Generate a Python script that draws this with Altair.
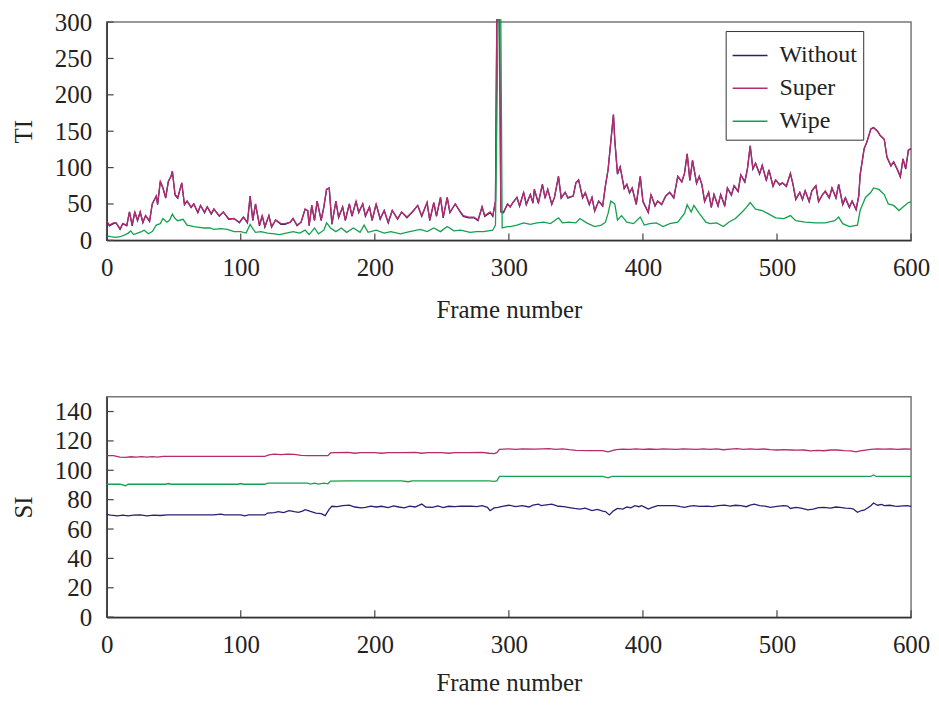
import altair as alt
import pandas as pd

FONT = "Liberation Serif"

# ---------------- TI (top panel) ----------------
ti_frames = [
    0, 2, 5, 7, 10, 12, 15, 17, 19, 21,
    23, 25, 27, 29, 32, 34, 37, 38, 40, 42,
    44, 46, 48, 49, 51, 53, 56, 58, 60, 63,
    65, 68, 70, 73, 75, 78, 80, 84, 87, 91,
    95, 99, 102, 105, 107, 109, 111, 114, 116, 118,
    121, 123, 126, 130, 133, 137, 139, 142, 145, 148,
    150, 151, 153, 155, 157, 160, 162, 164, 166, 168,
    171, 173, 176, 178, 181, 183, 186, 188, 191, 193,
    196, 198, 201, 204, 207, 210, 213, 217, 220, 224,
    228, 232, 235, 239, 241, 244, 246, 249, 251, 254,
    256, 260, 264, 266, 270, 274, 277, 280, 282, 286,
    288, 290, 291, 293, 294, 296, 299, 301, 303, 306,
    308, 311, 313, 316, 318, 319, 322, 325, 327, 329,
    332, 334, 337, 339, 342, 344, 348, 350, 352, 355,
    357, 360, 362, 364, 367, 370, 372, 374, 376, 378,
    379, 381, 383, 386, 388, 390, 392, 395, 398, 400,
    404, 406, 409, 411, 414, 417, 420, 423, 426, 429,
    431, 433, 435, 437, 440, 442, 444, 446, 449, 451,
    453, 456, 458, 461, 463, 466, 468, 471, 473, 476,
    478, 480, 482, 484, 487, 489, 492, 494, 497, 499,
    502, 504, 507, 510, 512, 514, 517, 519, 521, 524,
    526, 529, 531, 534, 536, 539, 541, 544, 546, 549,
    551, 554, 556, 559, 561, 562, 565, 567, 570, 572,
    575, 577, 580, 582, 585, 587, 590, 592, 594, 596,
    598, 600,
]

ti_super = [
    27, 21, 24, 24, 16, 23, 21, 39, 21, 39,
    28, 39, 25, 34, 27, 50, 61, 50, 81, 72,
    59, 81, 88, 95, 63, 59, 79, 50, 54, 46,
    50, 39, 48, 39, 46, 37, 43, 34, 39, 30,
    30, 25, 32, 25, 61, 28, 50, 21, 34, 19,
    34, 19, 28, 23, 23, 25, 30, 21, 25, 43,
    41, 21, 48, 28, 54, 28, 46, 70, 72, 23,
    54, 32, 46, 28, 50, 34, 54, 39, 50, 34,
    46, 28, 50, 30, 41, 25, 41, 30, 39, 32,
    39, 48, 34, 52, 28, 52, 34, 59, 32, 59,
    39, 50, 39, 34, 32, 32, 28, 46, 34, 39,
    34, 54, 303, 303, 40, 39, 50, 46, 52, 59,
    48, 66, 50, 63, 52, 70, 52, 77, 59, 70,
    50, 59, 88, 59, 66, 59, 61, 79, 83, 59,
    66, 50, 59, 41, 54, 48, 75, 97, 135, 173,
    138, 92, 101, 72, 77, 66, 72, 50, 88, 54,
    39, 63, 48, 54, 50, 61, 66, 59, 88, 81,
    92, 119, 83, 110, 79, 88, 77, 54, 66, 46,
    63, 48, 63, 48, 72, 63, 75, 68, 90, 81,
    99, 130, 99, 106, 92, 103, 83, 97, 75, 83,
    77, 79, 75, 92, 77, 57, 66, 57, 68, 54,
    68, 75, 54, 63, 68, 59, 72, 59, 77, 50,
    59, 46, 54, 43, 61, 90, 126, 135, 153, 155,
    150, 144, 139, 115, 103, 108, 97, 88, 112, 99,
    124, 126,
]

ti_without = [
    26, 20, 23, 24, 15, 23, 20, 39, 20, 39,
    27, 39, 24, 34, 26, 50, 61, 49, 81, 72,
    58, 81, 88, 95, 62, 58, 79, 49, 54, 45,
    50, 38, 48, 38, 46, 36, 43, 33, 39, 29,
    30, 24, 32, 24, 61, 27, 50, 20, 34, 18,
    34, 18, 28, 22, 22, 25, 30, 20, 25, 43,
    41, 20, 48, 27, 54, 27, 46, 70, 72, 22,
    54, 31, 46, 27, 50, 33, 54, 38, 50, 33,
    46, 27, 50, 29, 41, 24, 41, 29, 39, 31,
    39, 48, 33, 52, 27, 52, 33, 59, 31, 59,
    38, 50, 38, 33, 31, 31, 27, 46, 33, 38,
    33, 54, 303, 303, 39, 38, 50, 46, 52, 59,
    47, 66, 49, 63, 51, 70, 51, 77, 58, 70,
    49, 59, 88, 58, 66, 58, 61, 79, 83, 58,
    65, 49, 59, 40, 54, 47, 75, 97, 135, 173,
    138, 91, 101, 71, 77, 65, 72, 49, 88, 53,
    38, 63, 47, 54, 49, 61, 66, 58, 88, 80,
    92, 119, 82, 110, 78, 88, 76, 53, 66, 45,
    63, 47, 63, 47, 72, 62, 75, 67, 90, 80,
    99, 130, 98, 106, 91, 103, 82, 97, 74, 83,
    76, 79, 74, 92, 76, 56, 66, 56, 68, 53,
    68, 75, 53, 63, 67, 58, 72, 58, 77, 49,
    58, 45, 54, 42, 61, 90, 126, 135, 153, 155,
    150, 144, 139, 114, 102, 108, 96, 87, 112, 98,
    124, 126,
]

ti_wipe_frames = [
    0, 3, 7, 10, 14, 16, 18, 20, 23, 26,
    28, 31, 34, 37, 40, 42, 45, 47, 49, 51,
    53, 57, 60, 65, 69, 73, 77, 80, 85, 90,
    95, 100, 104, 107, 109, 111, 115, 120, 125, 129,
    134, 139, 144, 148, 151, 155, 158, 162, 164, 167,
    171, 175, 179, 184, 189, 192, 195, 201, 207, 212,
    219, 226, 234, 239, 244, 249, 254, 259, 264, 271,
    276, 281, 288, 290, 292, 294, 295, 299, 301, 306,
    311, 316, 321, 326, 331, 337, 340, 345, 350, 353,
    358, 364, 369, 372, 374, 376, 379, 381, 384, 388,
    393, 398, 401, 405, 410, 415, 420, 426, 431, 433,
    436, 438, 442, 447, 450, 455, 460, 464, 469, 474,
    477, 480, 484, 489, 494, 499, 505, 510, 514, 521,
    529, 536, 543, 546, 549, 554, 560, 562, 566, 570,
    572, 576, 580, 583, 587, 591, 594, 598, 600,
]

ti_wipe = [
    6, 5, 4, 5, 8, 10, 13, 8, 10, 12,
    14, 9, 12, 21, 23, 30, 25, 28, 36, 30,
    27, 29, 21, 19, 18, 17, 17, 15, 16, 15,
    12, 12, 10, 22, 16, 11, 12, 10, 9, 8,
    10, 12, 10, 14, 8, 17, 9, 14, 24, 17,
    12, 17, 11, 17, 11, 21, 11, 14, 10, 12,
    9, 12, 15, 12, 17, 12, 19, 13, 14, 11,
    12, 12, 14, 21, 303, 303, 17, 19, 19, 21,
    24, 22, 24, 25, 23, 31, 24, 25, 24, 30,
    24, 19, 21, 25, 37, 54, 50, 28, 34, 25,
    23, 32, 21, 23, 24, 19, 23, 25, 37, 49,
    39, 48, 37, 25, 23, 24, 19, 25, 30, 39,
    45, 52, 43, 41, 36, 31, 30, 34, 27, 25,
    24, 24, 27, 32, 23, 19, 21, 41, 59, 66,
    72, 70, 63, 50, 48, 41, 46, 52, 53,
]

# ---------------- SI (bottom panel) ----------------
si_super_frames = [
    0, 5, 10, 14, 18, 22, 26, 30, 34, 38,
    42, 50, 60, 70, 80, 90, 100, 110, 118, 121,
    125, 130, 135, 140, 145, 150, 155, 160, 165, 167,
    170, 180, 185, 190, 200, 205, 210, 220, 230, 235,
    240, 250, 255, 260, 270, 280, 285, 289, 291, 293,
    300, 305, 310, 320, 330, 335, 340, 345, 350, 360,
    370, 374, 377, 380, 385, 390, 395, 400, 405, 410,
    415, 420, 425, 430, 440, 445, 450, 455, 460, 465,
    470, 475, 480, 485, 490, 495, 500, 505, 510, 515,
    520, 525, 530, 535, 540, 545, 550, 555, 559, 562,
    566, 570, 575, 580, 585, 590, 595, 600,
]
si_super = [
    110, 110, 109, 108.8, 109.2, 109, 109.3, 109, 109.3, 109,
    109.5, 109.5, 109.5, 109.5, 109.5, 109.5, 109.5, 109.5, 109.5, 110.5,
    111, 110.6, 111, 110.8, 110.2, 110, 110, 110, 110, 111.8,
    112, 112.2, 111.6, 112, 112, 111.6, 112, 112, 112.2, 111.6,
    112, 112, 111.6, 112, 112, 112.2, 111.6, 111.3, 112, 114.3,
    114.6, 114.2, 114.6, 114.4, 114.8, 114.3, 114.6, 114, 113.6, 113.4,
    113.4, 112.5, 113.4, 114, 114.4, 114.2, 114.6, 114.2, 114.5, 114.2,
    114.6, 114.4, 114.2, 114.6, 114.2, 114.6, 114.2, 114.6, 114, 114.4,
    114.7, 114.2, 114.6, 114.3, 114.5, 114, 113.8, 114, 113.8, 113.7,
    113.8, 113.2, 113.6, 113.3, 113.8, 113.8, 113.4, 113.2, 112.6, 113.2,
    113.8, 114.3, 114.6, 114.4, 114.6, 114.3, 114.5, 114.4,
]

si_wipe_frames = [
    0, 10, 14, 16, 30, 44, 46, 48, 80, 98,
    100, 102, 118, 120, 140, 150, 152, 155, 158, 162,
    165, 167, 180, 200, 220, 225, 228, 240, 260, 275,
    285, 289, 291, 293, 300, 340, 370, 374, 377, 400,
    450, 500, 550, 570, 572, 574, 600,
]
si_wipe = [
    90.5, 90.5, 89.5, 90.5, 90.5, 90.5, 91, 90.5, 90.5, 90.5,
    91, 90.5, 90.5, 91.2, 91.2, 91.2, 90.6, 91.2, 90.6, 91.2,
    90.8, 92.6, 92.8, 92.8, 92.8, 92.2, 92.8, 92.8, 92.8, 92.8,
    92.8, 92.4, 92.8, 95.8, 95.8, 95.8, 95.8, 94.8, 95.8, 95.8,
    95.8, 95.8, 95.8, 95.8, 96.8, 95.8, 95.8,
]

si_without_frames = [
    0, 3, 8, 12, 16, 20, 25, 30, 35, 40,
    45, 50, 60, 70, 80, 85, 88, 95, 100, 103,
    106, 118, 120, 125, 128, 132, 136, 140, 143, 146,
    148, 152, 156, 160, 163, 166, 168, 172, 176, 181,
    185, 190, 193, 197, 201, 205, 210, 214, 218, 222,
    226, 230, 235, 238, 243, 247, 251, 255, 260, 264,
    267, 272, 276, 280, 284, 286, 289, 292, 296, 300,
    305, 310, 315, 318, 322, 324, 328, 332, 337, 341,
    345, 349, 353, 357, 362, 366, 370, 372, 375, 378,
    381, 385, 388, 391, 394, 397, 399, 402, 404, 407,
    411, 415, 420, 424, 428, 431, 435, 438, 442, 448,
    452, 456, 461, 465, 469, 473, 477, 480, 483, 487,
    491, 495, 500, 505, 508, 510, 514, 518, 523, 527,
    531, 535, 540, 544, 547, 551, 555, 557, 560, 563,
    565, 568, 570, 572, 575, 578, 580, 584, 588, 590,
    594, 597, 600,
]
si_without = [
    70, 69.5, 69, 69.5, 69, 69.5, 69.6, 69, 69.5, 69.2,
    69.6, 69.6, 69.6, 69.6, 69.6, 70.2, 69.6, 69.6, 69.6, 69,
    69.6, 69.6, 70.9, 71.2, 71.8, 71.2, 72.5, 71.8, 71.4, 72.2,
    73.2, 72, 70.9, 70.5, 69.1, 73.6, 75.5, 75.2, 76, 76.3,
    75, 74.4, 74.8, 75.6, 75, 75.5, 74.6, 75.8, 75, 74.4,
    75.6, 75, 77, 75, 74.8, 75.8, 74.6, 75.5, 75.2, 75.6,
    75.5, 75.6, 75.2, 75.9, 74.8, 72.5, 74.4, 74.8, 75.6, 76.2,
    75.2, 75.9, 75, 76.3, 77, 75.9, 76.5, 77, 75.5, 75.2,
    74.6, 74, 73.6, 74.2, 72.6, 73.4, 72.2, 71.9, 69.6, 72.4,
    74, 73.6, 75, 74.4, 75.9, 75.2, 75.9, 74.6, 73.6, 74.8,
    75.9, 75.9, 75.9, 75.9, 75.2, 74.8, 75.6, 75.9, 75.4, 75.6,
    75.2, 76, 76.3, 75.6, 76.2, 75.9, 75.2, 76.3, 77, 75.9,
    75.6, 74.8, 75.4, 75.9, 75.6, 74, 74.8, 74.2, 73, 73.6,
    74.6, 74.8, 74.2, 75, 74.8, 74.2, 74, 73.6, 71.4, 72.6,
    72.8, 74.6, 75.9, 77.7, 76.2, 76.8, 75.9, 76.2, 75.6, 75.4,
    75.8, 75.9, 75.4,
]

series_order = ["Without", "Super", "Wipe"]
series_colors = ["#2d1e74", "#b52b6c", "#14a04f"]

x_tick_values = [0, 100, 200, 300, 400, 500, 600]
ti_tick_values = [0, 50, 100, 150, 200, 250, 300]
si_tick_values = [0, 20, 40, 60, 80, 100, 120, 140]


def long_df(frames, values, name):
    return pd.DataFrame({"frame": frames, "value": values, "series": name})


ti_df = pd.concat([
    long_df(ti_frames, ti_without, "Without"),
    long_df(ti_frames, ti_super, "Super"),
    long_df(ti_wipe_frames, ti_wipe, "Wipe"),
], ignore_index=True)

si_df = pd.concat([
    long_df(si_without_frames, si_without, "Without"),
    long_df(si_super_frames, si_super, "Super"),
    long_df(si_wipe_frames, si_wipe, "Wipe"),
], ignore_index=True)


def panel(df, ytitle, ydomain, yticks, height, legend, x_label_pad, x_title_pad):
    xscale = alt.Scale(domain=[0, 600], nice=False, zero=False)
    yscale = alt.Scale(domain=ydomain, nice=False, zero=False)
    xaxis = alt.Axis(values=x_tick_values, title="Frame number", ticks=False, grid=False,
                     labelFlush=False, labelOverlap=False, labelPadding=x_label_pad,
                     titlePadding=x_title_pad,
                     labelFontSize=25, titleFontSize=25, titleFontWeight="normal",
                     labelFont=FONT, titleFont=FONT, labelColor="#222", titleColor="#222",
                     domainColor="#333", domainWidth=1.5)
    yaxis = alt.Axis(values=yticks, title=ytitle, ticks=False, grid=False,
                     labelFlush=False, labelOverlap=False, labelPadding=15, titlePadding=18,
                     labelFontSize=25, titleFontSize=25, titleFontWeight="normal",
                     labelFont=FONT, titleFont=FONT, labelColor="#222", titleColor="#222",
                     domainColor="#333", domainWidth=1.5)
    color = alt.Color("series:N", scale=alt.Scale(domain=series_order, range=series_colors),
                      legend=legend)
    layers = []
    for s in series_order:
        layers.append(
            alt.Chart(df).transform_filter(alt.datum.series == s)
            .mark_line(strokeWidth=1.3)
            .encode(x=alt.X("frame:Q", scale=xscale, axis=xaxis),
                    y=alt.Y("value:Q", scale=yscale, axis=yaxis),
                    color=color)
        )
    # inward-pointing tick marks, placed through the same scales
    ytick_rules = alt.Chart(pd.DataFrame({"value": yticks})).mark_rule(
        color="#444", strokeWidth=1.2).encode(
        y=alt.Y("value:Q", scale=yscale, axis=yaxis), x=alt.value(0), x2=alt.value(7))
    xtick_rules = alt.Chart(pd.DataFrame({"frame": x_tick_values})).mark_rule(
        color="#444", strokeWidth=1.2).encode(
        x=alt.X("frame:Q", scale=xscale, axis=xaxis), y=alt.value(height), y2=alt.value(height - 7))
    return alt.layer(*layers, ytick_rules, xtick_rules).properties(width=807, height=height)


ti_legend = alt.Legend(title=None, orient="none", legendX=621, legendY=9,
                       symbolType="stroke", symbolSize=1225, symbolStrokeWidth=1.5,
                       labelFontSize=24, labelFont=FONT, labelColor="#222", labelOffset=11,
                       labelLimit=300, rowPadding=2, padding=6,
                       strokeColor="#333", fillColor="white")

top = panel(ti_df, "TI", [0, 300], ti_tick_values, 219, ti_legend, 15, 17)
bottom = panel(si_df, "SI", [0, 150], si_tick_values, 221, None, 15, 14)

chart = alt.vconcat(top, bottom, spacing=157, bounds="flush").properties(
    padding={"left": 2, "top": 0, "right": 0, "bottom": 0}
).configure(font=FONT).configure_view(stroke="#777", strokeWidth=1.5)

chart.save("out.html", embed_options={"renderer": "svg", "actions": False})
